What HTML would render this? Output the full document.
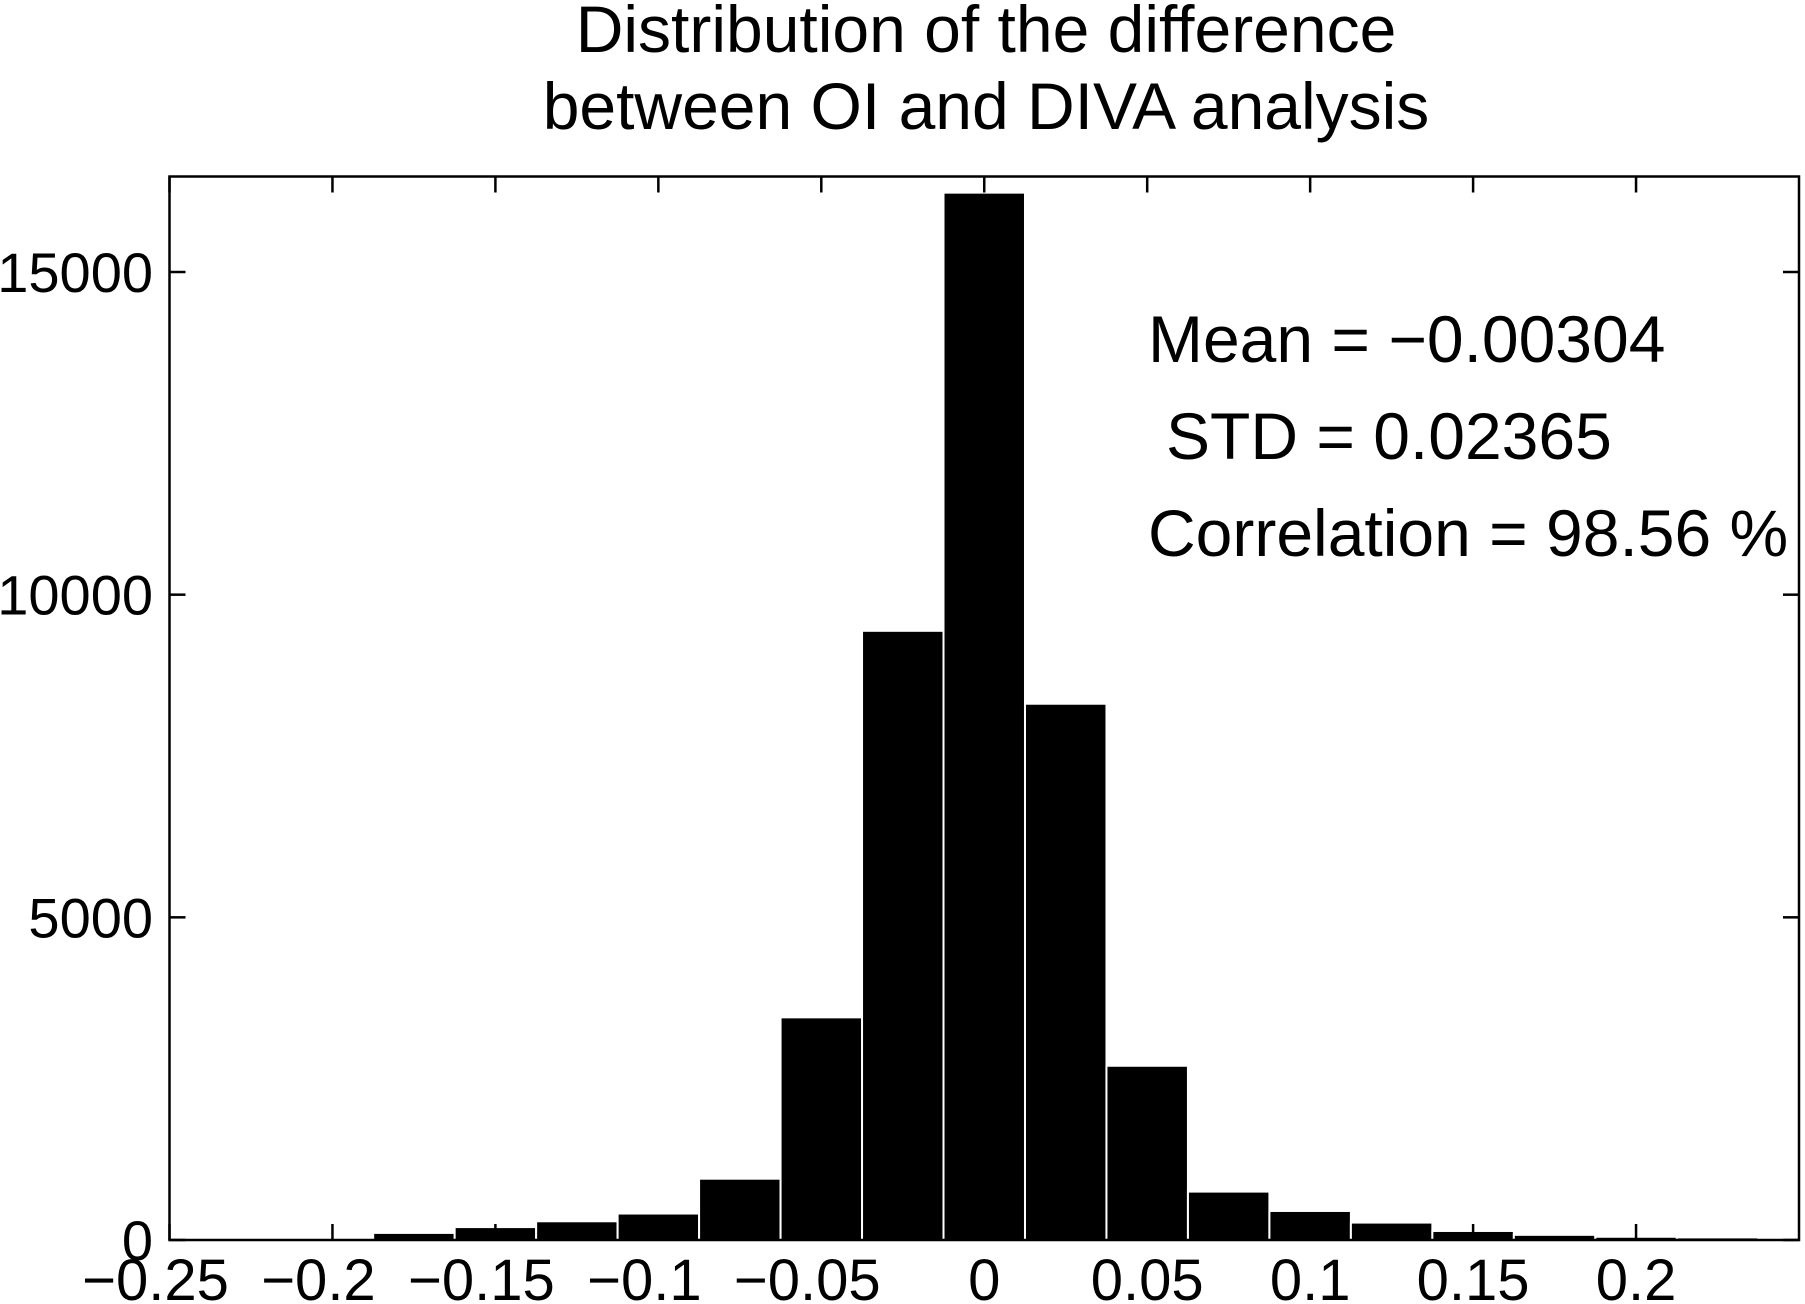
<!DOCTYPE html>
<html><head><meta charset="utf-8"><style>
html,body{margin:0;padding:0;background:#fff;}
svg{display:block;font-family:"Liberation Sans",Arial,sans-serif;}
</style></head><body>
<svg id="chart" width="1805" height="1304" viewBox="0 0 1805 1304">
<text x="986" y="52" font-size="66" text-anchor="middle">Distribution of the difference</text>
<text x="986" y="129" font-size="66" text-anchor="middle">between OI and DIVA analysis</text>
<g id="bars"></g>
<g id="axes"></g>
<text x="1148" y="362" font-size="66">Mean = −0.00304</text>
<text x="1166" y="459" font-size="66">STD = 0.02365</text>
<text x="1148" y="556" font-size="66">Correlation = 98.56 %</text>
</svg>
<script>
const binCenters = [-0.225,-0.2,-0.175,-0.15,-0.125,-0.1,-0.075,-0.05,-0.025,0,0.025,0.05,0.075,0.1,0.125,0.15,0.175,0.2,0.225,0.25];
const counts = [5,30,110,200,290,410,950,3450,9440,16230,8310,2700,750,450,270,140,80,50,40,10];
const xTicks = [-0.25,-0.2,-0.15,-0.1,-0.05,0,0.05,0.1,0.15,0.2];
const xTickLabels = ["−0.25","−0.2","−0.15","−0.1","−0.05","0","0.05","0.1","0.15","0.2"];
const yTicks = [0,5000,10000,15000];
const yTickLabels = ["0","5000","10000","15000"];
const binWidth = 0.025;

const L=169.5,R=1799,T=176.5,B=1240;
const xMin=-0.25,xMax=0.25,yMin=0,yMax=16480;
const NS="http://www.w3.org/2000/svg";
function sx(v){return L+(v-xMin)/(xMax-xMin)*(R-L);}
function sy(v){return B-(v-yMin)/(yMax-yMin)*(B-T);}
function mk(tag,attrs,parent){const e=document.createElementNS(NS,tag);for(const k in attrs)e.setAttribute(k,attrs[k]);parent.appendChild(e);return e;}
const bars=document.getElementById('bars'),axes=document.getElementById('axes');
binCenters.forEach((c,i)=>{
  let x0=sx(c-binWidth/2),x1=Math.min(sx(c+binWidth/2),R);
  const r=mk('rect',{x:x0,y:sy(counts[i]),width:x1-x0,height:B-sy(counts[i]),fill:'#000',stroke:'#fff','stroke-width':2},bars);
  
  
});
const box=mk('rect',{x:L,y:T,width:R-L,height:B-T,fill:'none',stroke:'#000','stroke-width':2.5},axes);


xTicks.forEach((v,i)=>{
  const x=sx(v);
  mk('line',{x1:x,x2:x,y1:B,y2:B-16,stroke:'#000','stroke-width':2.5},axes);
  mk('line',{x1:x,x2:x,y1:T,y2:T+16,stroke:'#000','stroke-width':2.5},axes);
  const off = xTickLabels[i].startsWith('−') ? -14 : 0;
  const t=mk('text',{x:x+off,y:1300,'font-size':58,'text-anchor':'middle'},axes);
  t.textContent=xTickLabels[i];
  
  
});
yTicks.forEach((v,i)=>{
  const y=sy(v);
  mk('line',{x1:L,x2:L+16,y1:y,y2:y,stroke:'#000','stroke-width':2.5},axes);
  mk('line',{x1:R,x2:R-16,y1:y,y2:y,stroke:'#000','stroke-width':2.5},axes);
  const t=mk('text',{x:153,y:y+20,'font-size':56,'text-anchor':'end'},axes);
  t.textContent=yTickLabels[i];
  
  
});
</script>
</body></html>
